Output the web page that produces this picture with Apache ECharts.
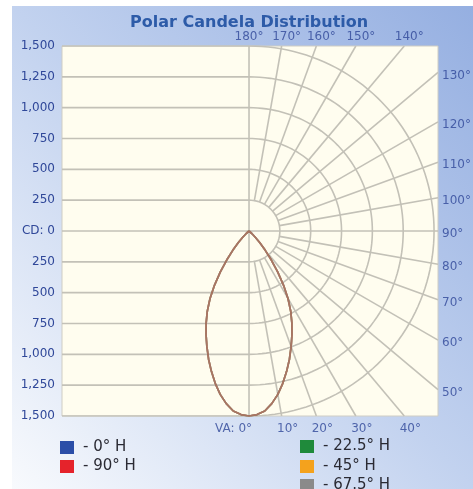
<!DOCTYPE html>
<html><head><meta charset="utf-8">
<script src="https://cdn.jsdelivr.net/npm/echarts@6/dist/echarts.min.js"></script>
<style>
html,body{margin:0;padding:0;background:#fff;overflow:hidden;}
#bg{position:absolute;left:12px;top:6px;width:461px;height:483px;background:linear-gradient(to bottom left,#95afe1 0%,#c2d2ef 50%,#f8fafd 100%);}
#chart{position:absolute;left:0;top:0;width:473px;height:489px;}
</style></head><body><div id="bg"></div><div id="chart"></div>
<script>
// ---- data ----
const verticalAngles = [0, 2.5, 5, 7.5, 10, 12.5, 15, 17.5, 20, 22.5, 25, 27.5, 30, 32.5, 35, 37.5, 40, 42.5, 45, 47.5, 50, 52.5, 55, 60, 65, 70, 75, 80, 85, 90];
const cd_0H    = [1500, 1490, 1465, 1412, 1345, 1265, 1178, 1090, 998, 910, 822, 732, 632, 520, 405, 297, 205, 130, 72, 30, 8, 0, 0, 0, 0, 0, 0, 0, 0, 0];
const cd_22_5H = [1500, 1490, 1465, 1412, 1345, 1265, 1178, 1090, 998, 910, 822, 732, 632, 520, 405, 297, 205, 130, 72, 30, 8, 0, 0, 0, 0, 0, 0, 0, 0, 0];
const cd_45H   = [1500, 1490, 1465, 1412, 1345, 1265, 1178, 1090, 998, 910, 822, 732, 632, 520, 405, 297, 205, 130, 72, 30, 8, 0, 0, 0, 0, 0, 0, 0, 0, 0];
const cd_67_5H = [1500, 1490, 1465, 1412, 1345, 1265, 1178, 1090, 998, 910, 822, 732, 632, 520, 405, 297, 205, 130, 72, 30, 8, 0, 0, 0, 0, 0, 0, 0, 0, 0];
const cd_90H   = [1500, 1490, 1465, 1412, 1345, 1265, 1178, 1090, 998, 910, 822, 732, 632, 520, 405, 297, 205, 130, 72, 30, 8, 0, 0, 0, 0, 0, 0, 0, 0, 0];
const cdTicks = [-1500, -1250, -1000, -750, -500, -250, 0, 250, 500, 750, 1000, 1250, 1500];
const circleValues = [250, 500, 750, 1000, 1250, 1500];
const radialAngles = [0, 10, 20, 30, 40, 50, 60, 70, 80, 90, 100, 110, 120, 130, 140, 150, 160, 170, 180];
const topAngleLabels = [180, 170, 160, 150, 140];
const rightAngleLabels = [130, 120, 110, 100, 90, 80, 70, 60, 50];
const bottomAngleLabels = [0, 10, 20, 30, 40];

// ---- layout ----
const X_MIN = -1516, X_MAX = 1532, Y_MIN = -1500, Y_MAX = 1500;
const INNER_R = circleValues[0];
const rad = d => d * Math.PI / 180;
const polarPt = (r, a) => [r * Math.sin(rad(a)), -r * Math.cos(rad(a))];
function edgePoint(a) {
  const dx = Math.sin(rad(a)), dy = -Math.cos(rad(a));
  const ts = [];
  if (dx > 1e-9) ts.push(X_MAX / dx);
  if (dx < -1e-9) ts.push(X_MIN / dx);
  if (dy > 1e-9) ts.push(Y_MAX / dy);
  if (dy < -1e-9) ts.push(Y_MIN / dy);
  const t = Math.min(...ts);
  return [t * dx, t * dy];
}
const gridColor = '#c3c1b7';
const labelColor = '#2f4799';
const FONT = 'DejaVu Sans';
const series = [];

function gridLine(data) {
  series.push({
    type: 'line', data: data, showSymbol: false, silent: true, clip: true, z: 1,
    lineStyle: { color: gridColor, width: 1.6 }, emphasis: { disabled: true }, animation: false
  });
}
// left half horizontal lines
cdTicks.forEach(v => gridLine([[X_MIN, v], [0, v]]));
// radial lines on right half
radialAngles.forEach(a => {
  const r0 = (a % 90 === 0) ? 0 : INNER_R;
  gridLine([polarPt(r0, a), edgePoint(a)]);
});
// circles
circleValues.forEach(c => {
  const pts = [];
  for (let a = 0; a <= 180; a += 2) pts.push(polarPt(c, a));
  gridLine(pts);
});

// candela curves (right half = plane, left half mirrored); drawn bottom to top
const defs = [
  { name: '0° H', color: '#2b4ea8', values: cd_0H },
  { name: '22.5° H', color: '#1f8a3b', values: cd_22_5H },
  { name: '45° H', color: '#f4a21d', values: cd_45H },
  { name: '90° H', color: '#e5232b', values: cd_90H },
  { name: '67.5° H', color: '#8a8a8a', values: cd_67_5H }
];
defs.forEach(d => {
  const pts = [];
  for (let i = verticalAngles.length - 1; i >= 1; i--) pts.push(polarPt(d.values[i], -verticalAngles[i]));
  for (let i = 0; i < verticalAngles.length; i++) pts.push(polarPt(d.values[i], verticalAngles[i]));
  const clean = pts.filter((p, i) => i === 0 || Math.abs(p[0] - pts[i - 1][0]) > 1e-6 || Math.abs(p[1] - pts[i - 1][1]) > 1e-6);
  series.push({
    type: 'line', name: d.name, data: clean, showSymbol: false, smooth: false, z: 3,
    itemStyle: { color: d.color }, lineStyle: { color: d.color, width: 1.7, opacity: 0.5, join: 'round' },
    emphasis: { disabled: true }, animation: false
  });
});

// angle labels
function labelSeries(angles, position, extra) {
  series.push({
    type: 'scatter', symbolSize: 0, clip: false, silent: true, z: 5, animation: false,
    data: angles.map(a => {
      const item = { value: edgePoint(a), name: (position === 'bottom' && a === 0) ? 'VA: 0°' : a + '°' };
      const lab = extra(a);
      if (lab) item.label = lab;
      return item;
    }),
    label: { show: true, position: position, distance: position === 'top' ? 3 : (position === 'bottom' ? 7 : 4),
      formatter: p => p.name, color: labelColor, fontSize: 12, fontFamily: FONT },
    emphasis: { disabled: true }
  });
}
labelSeries(topAngleLabels, 'top', a => a === 180 ? null : { offset: [5, 0] });
labelSeries(rightAngleLabels, 'right', a => ({ offset: [0, 3] }));
labelSeries(bottomAngleLabels, 'bottom', a => a === 0 ? { align: 'right', offset: [3, 0] } : { offset: [6, 0] });

function legendItem(name, left, top) {
  return {
    left: left, top: top, padding: 0, data: [name], icon: 'rect', itemWidth: 14, itemHeight: 13,
    formatter: n => '- ' + n, selectedMode: false,
    textStyle: { fontSize: 15, color: '#2a2a33', fontFamily: FONT, padding: [0, 0, 0, 4] },
    itemStyle: { opacity: 1 }
  };
}

const chart = echarts.init(document.getElementById('chart'), null, { renderer: 'canvas' });
chart.setOption({
  animation: false,
  title: { text: 'Polar Candela Distribution', left: 125, top: 10,
    textStyle: { fontSize: 16, fontWeight: 'bold', color: '#2d5ba8', fontFamily: FONT } },
  grid: { left: 62, top: 46, width: 376, height: 370, show: true,
    backgroundColor: '#fffdef', borderColor: '#cfcdc4', borderWidth: 1 },
  xAxis: { type: 'value', min: X_MIN, max: X_MAX, show: false },
  yAxis: { type: 'value', min: Y_MIN, max: Y_MAX, interval: 250,
    axisLine: { show: false }, axisTick: { show: false }, splitLine: { show: false },
    axisLabel: { margin: 7, color: labelColor, fontSize: 12, fontFamily: FONT,
      formatter: v => v === 0 ? 'CD: 0' : Math.abs(v).toLocaleString('en-US') } },
  legend: [
    legendItem('0° H', 60, 440),
    legendItem('90° H', 60, 459),
    legendItem('22.5° H', 300, 439),
    legendItem('45° H', 300, 459),
    legendItem('67.5° H', 300, 478)
  ],
  series: series
});
</script></body></html>
